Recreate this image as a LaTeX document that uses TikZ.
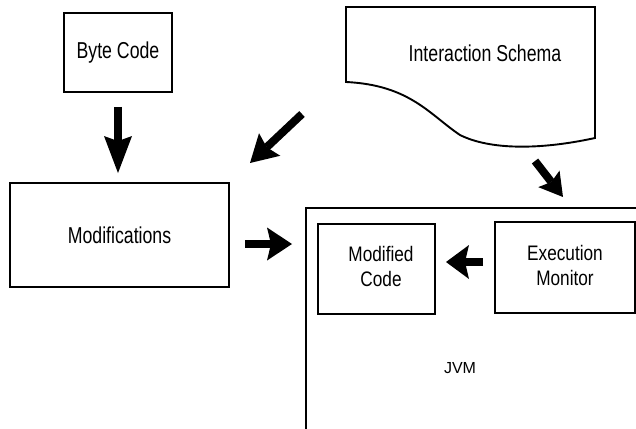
\documentclass[tikz,border=0pt]{standalone}
\usepackage{fontspec}
\setmainfont{Liberation Sans}
\usetikzlibrary{arrows.meta}
\newcommand{\bigtxt}[1]{{\fontsize{23}{27}\selectfont\scalebox{0.77}[1]{#1}}}
\newcommand{\midtxt}[1]{{\fontsize{21}{25}\selectfont\scalebox{0.82}[1]{\begin{tabular}{@{}c@{}}#1\end{tabular}}}}
\tikzset{
  box/.style={draw=black, line width=1.9pt, inner sep=0pt, rectangle},
}
\begin{document}
\begin{tikzpicture}[x=1pt, y=-1pt]
\clip (0,0) rectangle (636,428);
\fill[white] (0,0) rectangle (636,428);

% boxes
\node[box, minimum width=108pt, minimum height=79pt] (bc) at (118,52.5) {\bigtxt{Byte Code}};
\node[box, minimum width=219pt, minimum height=104pt] (mod) at (119.5,235) {\bigtxt{Modifications}};

% document shape
\draw[line width=1.9pt, line join=miter]
  (346,82) -- (346,7) -- (595,7) -- (595,138)
  .. controls (540,150) and (490,150) .. (460,135)
  .. controls (430,115) and (410,85) .. (346,82) -- cycle;
\node (doc) at (485,53) {\bigtxt{Interaction Schema}};

% JVM
\draw[line width=1.9pt] (306,208) rectangle (700,500);
\node (jvm) at (460,368) {\fontsize{16}{19}\selectfont JVM};
\node[box, minimum width=117pt, minimum height=90pt] (mc) at (376.5,269) {\hspace{9pt}\midtxt{Modified\\Code}};
\node[box, minimum width=140pt, minimum height=91pt] (em) at (565,267.5) {\midtxt{Execution\\Monitor}\hspace{13pt}};

% arrow end points
\coordinate (d1) at (302,114);
\coordinate (d2) at (250,163);
\coordinate (r1) at (245,244);
\coordinate (r2) at (292,244);
\coordinate (a1) at (535,161);
\coordinate (a2) at (563,197);
\coordinate (l1) at (483,262);
\coordinate (l2) at (446,262);

% arrows
\draw[line width=8pt, -{Stealth[length=37pt, width=28pt, inset=5pt, line width=0pt]},
      shorten <=14pt, shorten >=9pt] (bc.south) -- (bc.south |- mod.north);
\draw[line width=8pt, -{Stealth[length=27pt, width=31pt, inset=4pt, line width=0pt]}] (d1) -- (d2);
\draw[line width=8pt, -{Stealth[length=25pt, width=33pt, inset=4pt, line width=0pt]}] (r1) -- (r2);
\draw[line width=8pt, -{Stealth[length=23pt, width=27pt, inset=4pt, line width=0pt]}] (a1) -- (a2);
\draw[line width=8pt, -{Stealth[length=23pt, width=34pt, inset=4pt, line width=0pt]}] (l1) -- (l2);
\end{tikzpicture}
\end{document}
